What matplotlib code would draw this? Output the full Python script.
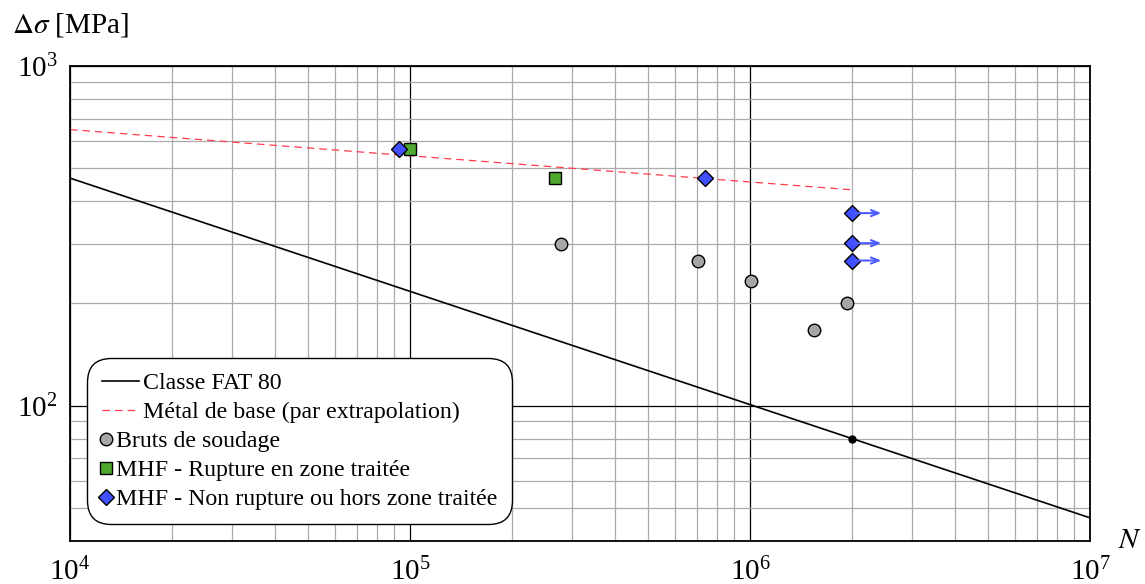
import matplotlib
matplotlib.use('Agg')
from matplotlib import pyplot as plt
from matplotlib.ticker import LogLocator, NullFormatter
from matplotlib.legend_handler import HandlerLine2D
import numpy as np

plt.rcParams['font.family'] = ['Liberation Serif', 'DejaVu Serif']
plt.rcParams['mathtext.fontset'] = 'stix'

# FAT 80 design curve (slope 3, 80 MPa at 2e6 cycles)
fat_N = [1e4, 1e7]
fat_S = [467.8, 46.8]
fat_ref_N = [2e6]
fat_ref_S = [80]

# base metal (extrapolated)
base_N = [1e4, 2e6]
base_S = [650, 432]

# as-welded
brut_N = [2.78e5, 7.03e5, 1.01e6, 1.54e6, 1.93e6]
brut_S = [300, 267, 233, 167, 201]

# HFMI - failure in treated zone
mhf_r_N = [1.0e5, 2.67e5]
mhf_r_S = [569, 468]

# HFMI - run-out or failure outside treated zone
mhf_nr_N = [9.3e4, 7.39e5, 2e6, 2e6, 2e6]
mhf_nr_S = [569, 468, 369, 301, 267.6]

# run-outs (arrows)
runout_N = [2e6, 2e6, 2e6]
runout_S = [369, 301, 267.6]

FS = 17.2


# marker-only legend entries: marker at the left of the handle box
class LeftMarker(HandlerLine2D):
    def create_artists(self, legend, orig_handle, xdescent, ydescent,
                       width, height, fontsize, trans):
        arts = super().create_artists(legend, orig_handle, xdescent, ydescent,
                                      width, height, fontsize, trans)
        for a in arts:
            if a.get_marker() not in (None, 'None', ''):
                a.set_xdata([0.2 * fontsize])
        return arts


fig = plt.figure(figsize=(11.45, 5.84), dpi=100)
ax = fig.add_axes([70/1145, 1-541/584, 1020/1145, 475/584])

ax.set_xscale('log')
ax.set_yscale('log')
ax.set_xlim(1e4, 1e7)
ax.set_ylim(40, 1000)

ax.xaxis.set_minor_locator(LogLocator(base=10, subs=np.arange(2, 10)))
ax.yaxis.set_minor_locator(LogLocator(base=10, subs=np.arange(2, 10)))
ax.xaxis.set_minor_formatter(NullFormatter())
ax.yaxis.set_minor_formatter(NullFormatter())
ax.grid(True, which='minor', color='#ababab', linewidth=0.9)
ax.grid(True, which='major', color='black', linewidth=0.9)
ax.set_axisbelow(True)
ax.tick_params(which='both', direction='in', length=0)
ax.tick_params(axis='x', labelsize=21, pad=12)
ax.tick_params(axis='y', labelsize=21, pad=9)
for sp in ax.spines.values():
    sp.set_linewidth(1.3)

ax.plot(fat_N, fat_S, color='black', linewidth=1.2, label='Classe FAT 80')
ax.plot(base_N, base_S, color='#ff3b4e', linewidth=0.9, linestyle=(0, (6, 4)),
        label='Métal de base (par extrapolation)')
ax.plot(fat_ref_N, fat_ref_S, 'o', color='black', markersize=5)

for n, s in zip(runout_N, runout_S):
    ax.annotate('', xy=(n*1.24, s), xytext=(n, s),
                arrowprops=dict(arrowstyle='->,head_length=0.55,head_width=0.22',
                                color='#4d5cff', linewidth=1.5))

h_brut, = ax.plot(brut_N, brut_S, 'o', markerfacecolor='#a6a6a6', markeredgecolor='black',
                  markeredgewidth=1.0, markersize=9, linestyle='none',
                  label='Bruts de soudage')
h_r, = ax.plot(mhf_r_N, mhf_r_S, 's', markerfacecolor='#4ea72e', markeredgecolor='black',
               markeredgewidth=1.0, markersize=8, linestyle='none',
               label='MHF - Rupture en zone traitée')
h_nr, = ax.plot(mhf_nr_N, mhf_nr_S, 'D', markerfacecolor='#4050ff', markeredgecolor='black',
                markeredgewidth=1.0, markersize=8, linestyle='none',
                label='MHF - Non rupture ou hors zone traitée')

leg = ax.legend(loc='lower left', bbox_to_anchor=(0.017, 0.035), fontsize=FS,
                frameon=True, fancybox=True, framealpha=1, edgecolor='black',
                handlelength=1.55, handletextpad=0.2, labelspacing=0.3,
                borderpad=0.6, borderaxespad=0,
                handler_map={h_brut: LeftMarker(), h_r: LeftMarker(), h_nr: LeftMarker()})
leg.get_frame().set_linewidth(1.0)
leg.get_frame().set_boxstyle('round', pad=0, rounding_size=1.0)

# shrink the handle box of the marker entries so their text starts right after the marker
fs_px = FS * fig.dpi / 72
for col in leg._legend_handle_box.get_children():
    for row in col.get_children()[2:]:
        row.get_children()[0].width = 0.3 * fs_px

fig.text(12/1145, 1-25/584, r'$\Delta\sigma$ [MPa]', fontsize=21, va='center', ha='left')
fig.text(1130/1145, 1-541/584, r'$N$', fontsize=21, va='center', ha='center')

fig.savefig('out.png', dpi=100)
